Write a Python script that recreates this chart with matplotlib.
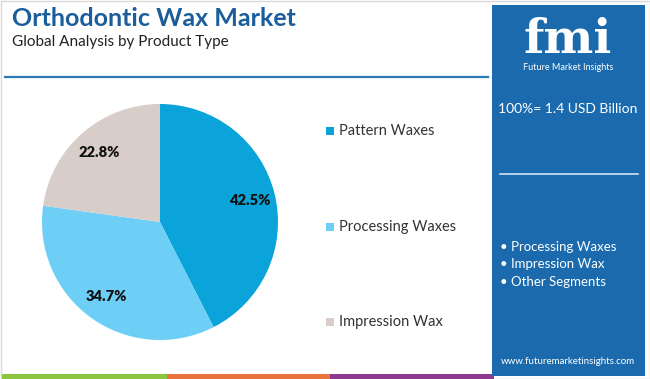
import matplotlib
matplotlib.use("Agg")
import matplotlib.pyplot as plt
from matplotlib.patches import Rectangle

# data
categories = ['Pattern Waxes', 'Processing Waxes', 'Impression Wax']
shares = [42.5, 34.7, 22.8]
colors = ['#0aa3da', '#6dcff5', '#d8cdc8']
side_items = ['Processing Waxes', 'Impression Wax', 'Other Segments']
title = 'Orthodontic Wax Market'
subtitle = 'Global Analysis by Product Type'
total_label = '100%= 1.4 USD Billion'

W, H = 650, 379
plt.rcParams['font.family'] = ['Lato', 'DejaVu Sans']
fig = plt.figure(figsize=(W / 100, H / 100), dpi=100)

# background layer in pixel coordinates (y from top)
bg = fig.add_axes([0, 0, 1, 1])
bg.set_xlim(0, W)
bg.set_ylim(H, 0)
bg.axis('off')

bg.add_patch(Rectangle((0.5, 0.5), W - 1, H - 1, fill=False, ec='#d9d9d9', lw=1))
bg.text(12, 18, title, fontsize=18, fontweight='bold', color='#1b5e9b', va='center')
bg.text(12, 42, subtitle, fontsize=11, color='#222222', va='center')
bg.plot([5, 488], [77, 77], color='#2a7ab8', lw=1.6)

# bottom stripes
for x0, x1, c in [(2, 167, '#8cc63e'), (167, 330, '#e8743b'), (330, 494, '#8e3b8f')]:
    bg.add_patch(Rectangle((x0, 374), x1 - x0, 5, color=c, lw=0))

# right panel
bg.add_patch(Rectangle((492, 5), 153, 371, color='#1a6aad', lw=0))
bg.text(568, 40, 'fmi', fontsize=34, fontweight='bold', color='white',
        ha='center', va='center', family='DejaVu Serif')
bg.text(568, 67, 'Future Market Insights', fontsize=6.5, color='white', ha='center', va='center')
bg.text(568, 109, total_label, fontsize=10, color='white', ha='center', va='center')
bg.plot([500, 638], [174, 174], color='#cfe3f3', lw=1.2)
for i, item in enumerate(side_items):
    bg.text(500, 247 + i * 17.5, '\u2022 ' + item, fontsize=9.5, color='white', va='center')
bg.text(568, 362, 'www.futuremarketinsights.com', fontsize=7, color='white', ha='center', va='center')

# legend
for i, (cat, c) in enumerate(zip(categories, colors)):
    y = 131 + i * 95.5
    bg.add_patch(Rectangle((326, y - 4), 8, 8, color=c, lw=0))
    bg.text(339, y, cat, fontsize=10.5, color='#333333', va='center')

# pie
ax = fig.add_axes([42 / W, 39 / H, 236 / W, 236 / H])
ax.pie(shares, colors=colors, startangle=90, counterclock=False,
       autopct='%.1f%%', pctdistance=0.78,
       textprops=dict(fontsize=10.5, fontweight='heavy', color='#111111'),
       wedgeprops=dict(linewidth=0))
ax.set_xlim(-1, 1)
ax.set_ylim(-1, 1)
ax.set_aspect('equal')
ax.axis('off')

fig.savefig('out.png', dpi=100)
